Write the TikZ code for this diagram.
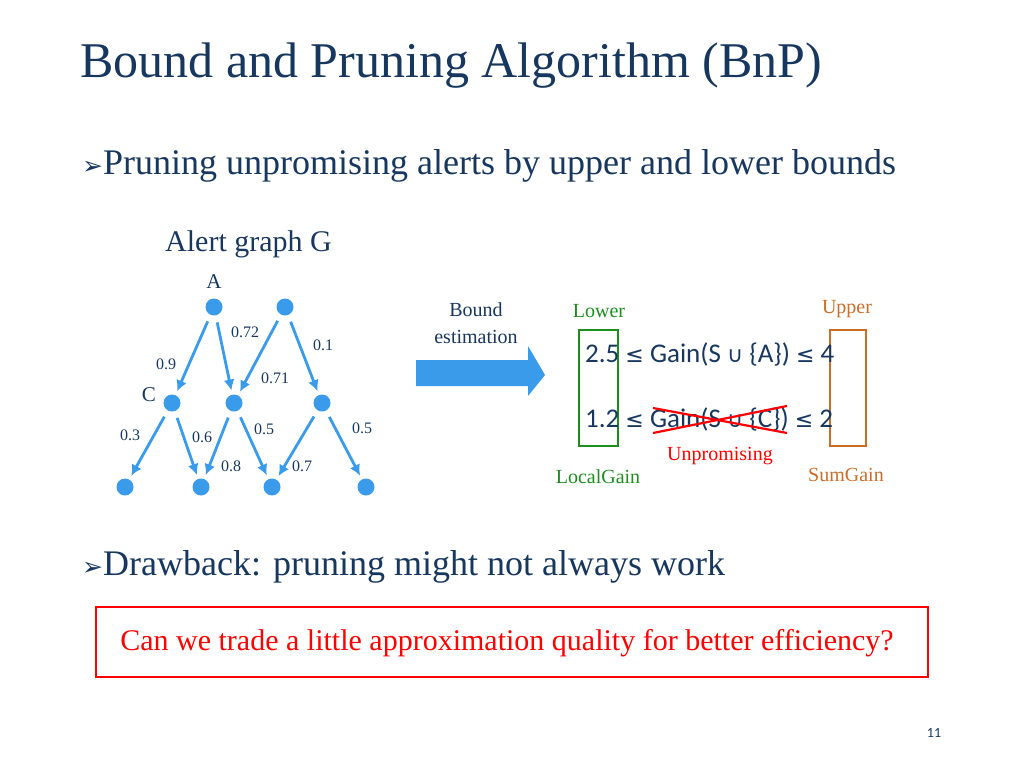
\documentclass[tikz,border=0pt]{standalone}
\usepackage{fontspec}
\usetikzlibrary{arrows.meta}
\setmainfont{Liberation Serif}
\newfontfamily\calib{Carlito}
\newfontfamily\djvs{DejaVu Sans}
\definecolor{nblue}{HTML}{3A9BEA}
\definecolor{tblue}{HTML}{17375E}
\definecolor{gr}{HTML}{1E8C1E}
\definecolor{org}{HTML}{C86E28}
\newcommand{\myle}{{\djvs\fontsize{22}{22}\selectfont ≤}}
\newcommand{\mycup}{{\djvs\fontsize{22}{22}\selectfont ∪}}
\begin{document}
\begin{tikzpicture}[x=1pt,y=-1pt,
  dot/.style={circle,fill=nblue,inner sep=0,minimum size=17pt},
  ed/.style={nblue,line width=2.8pt,-{Latex[length=11pt,width=11pt]},shorten <=7pt,shorten >=4pt},
  lab/.style={text=tblue,font=\fontsize{16}{16}\selectfont,inner sep=0},
  txt/.style={text=tblue,inner sep=0,anchor=west},
  eq/.style={txt,font=\calib\fontsize{27}{27}\selectfont}]
\useasboundingbox (0,0) rectangle (1024,768);
\node[txt,font=\fontsize{50}{50}\selectfont] (title) at (80,66) {Bound and Pruning Algorithm (BnP)};
\node[txt,font=\fontsize{36}{36}\selectfont] (b1) at (82,166) {{\djvs\fontsize{25}{25}\selectfont ➢}Pruning unpromising alerts by upper and lower bounds};
\node[txt,font=\fontsize{30}{30}\selectfont] (ag) at (165,244) {Alert graph G};
\node (t1) [dot] at (214,307) {}; \node (t2) [dot] at (285,307) {};
\node (m1) [dot] at (172,403) {}; \node (m2) [dot] at (234,403) {}; \node (m3) [dot] at (322,403) {};
\node (u1) [dot] at (125,487) {}; \node (u2) [dot] at (201,487) {}; \node (u3) [dot] at (272,487) {}; \node (u4) [dot] at (366,487) {};
\draw[ed] (t1)--(m1); \draw[ed] (t1)--(m2); \draw[ed] (t2)--(m2); \draw[ed] (t2)--(m3);
\draw[ed] (m1)--(u1); \draw[ed] (m1)--(u2); \draw[ed] (m2)--(u2); \draw[ed] (m2)--(u3);
\draw[ed] (m3)--(u3); \draw[ed] (m3)--(u4);
\node[lab,font=\fontsize{21}{21}\selectfont] (lA) at (214,282) {A};
\node[lab,font=\fontsize{21}{21}\selectfont] (lC) at (149,395) {C};
\node[lab] (l1) at (245,332) {0.72}; \node[lab] (l2) at (323,345) {0.1};
\node[lab] (l3) at (166,364) {0.9}; \node[lab] (l4) at (275,378) {0.71};
\node[lab] (l5) at (130,435) {0.3}; \node[lab] (l6) at (202,437) {0.6};
\node[lab] (l7) at (264,429) {0.5}; \node[lab] (l8) at (362,428) {0.5};
\node[lab] (l9) at (231,466) {0.8}; \node[lab] (l10) at (302,466) {0.7};
\node[lab,font=\fontsize{20}{20}\selectfont,align=center] (be) at (476,323) {Bound\\[7pt]estimation};
\fill[nblue] (416,360) -- (528,360) -- (528,346) -- (545,375) -- (528,396) -- (528,386) -- (416,386) -- cycle;
\draw[gr,line width=2.5pt] (579,330) rectangle (618,446);
\draw[org,line width=2.5pt] (830,330) rectangle (866,446);
\node[eq] (e1) at (585,354) {2.5 \myle{} Gain(S \mycup{} \{A\}) \myle{} 4};
\node[eq] (e2) at (585,419) {1.2 \myle{} Gain(S \mycup{} \{C\}) \myle{} 2};
\draw[red,line width=2.2pt] (653,408)--(787,433) (653,433)--(787,406);
\node[font=\fontsize{20}{20}\selectfont,text=gr] (lo) at (599,311) {Lower};
\node[font=\fontsize{20}{20}\selectfont,text=org] (up) at (847,309) {Upper};
\node[font=\fontsize{20}{20}\selectfont,text=gr] (lg) at (598,477) {LocalGain};
\node[font=\fontsize{20}{20}\selectfont,text=org] (sg) at (846,475) {SumGain};
\node[font=\fontsize{20}{20}\selectfont,text=red] (un) at (720,456) {Unpromising};
\node[txt,font=\fontsize{36}{36}\selectfont] (b2) at (82,567) {{\djvs\fontsize{25}{25}\selectfont ➢}Drawback: pruning might not always work};
\draw[red,line width=2pt] (96,607) rectangle (928,677);
\node[text=red,font=\fontsize{30}{30}\selectfont] (q) at (507,643) {Can we trade a little approximation quality for better efficiency?};
\node[text=tblue,font=\calib\fontsize{14}{14}\selectfont] (pn) at (934,733) {11};
\end{tikzpicture}
\end{document}
